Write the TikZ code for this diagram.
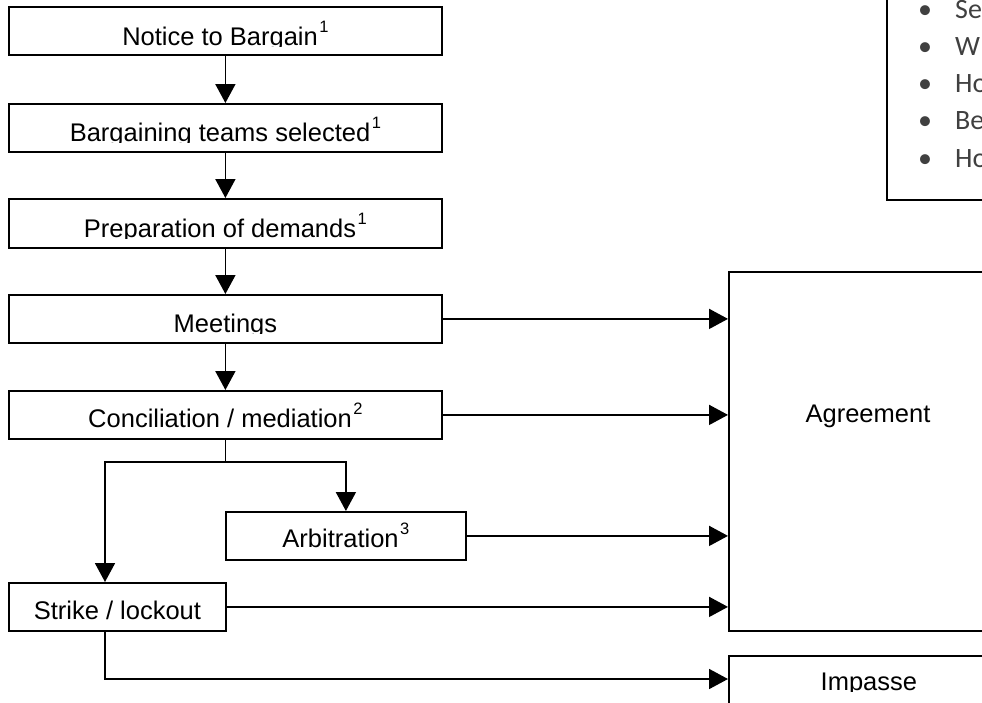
\documentclass[tikz,border=0pt]{standalone}
\usepackage{fontspec}
\setmainfont{Liberation Sans}
\newfontfamily\notefont{Carlito}
\usetikzlibrary{arrows.meta}

\definecolor{notegray}{RGB}{64,64,64}

\newcommand\fnmark[1]{\kern1.5pt\raisebox{12.5pt}{\fontsize{16.5}{16.5}\selectfont #1}}
% text of a box, cut off just under its baseline
\newcommand\stagelabel[3]{%
  \begin{scope}
    \clip (#1.north west) rectangle (#1.east |- 0,#2+1.5);
    \node[stagetext] (#1-txt) at (#1.center |- 0,#2) {#3};
  \end{scope}}

\tikzset{
  stage/.style={draw, line width=1.8pt, anchor=north west, inner sep=0pt},
  flow/.style={line width=1.8pt, -{Triangle[length=19pt,width=20pt]}},
  link/.style={line width=1.8pt},
  stagetext/.style={anchor=base, inner sep=0pt, font=\fontsize{25.5}{30}\selectfont},
  note/.style={anchor=base west, inner sep=0pt, text=notegray, font=\notefont\fontsize{28}{34}\selectfont},
}

\begin{document}
\begin{tikzpicture}[x=1pt,y=-1pt]
    \useasboundingbox (0,0) rectangle (982,702);
    \clip (0,0) rectangle (982,702);

    % left column
    \node[stage, minimum width=433pt, minimum height=48pt] (notice) at (8,6) {};
    \node[stage, minimum width=433pt, minimum height=48pt] (teams) at (8,103) {};
    \node[stage, minimum width=433pt, minimum height=49pt] (demands) at (8,198) {};
    \node[stage, minimum width=433pt, minimum height=48pt] (meetings) at (8,294) {};
    \node[stage, minimum width=433pt, minimum height=48pt] (concil) at (8,390) {};
    \node[stage, minimum width=240pt, minimum height=48pt] (arbit) at (225,511) {};
    \node[stage, minimum width=217pt, minimum height=48pt] (strike) at (8,582) {};

    % right column
    \node[stage, minimum width=280pt, minimum height=359pt] (agree) at (728,271) {};
    \node[stage, minimum width=280pt, minimum height=70pt] (impasse) at (728,655) {};
    \node[stage, minimum width=130pt, minimum height=215pt] (notes) at (886,-16) {};

    \stagelabel{notice}{45}{Notice to Bargain\fnmark{1}}
    \stagelabel{teams}{141}{Bargaining teams selected\fnmark{1}}
    \stagelabel{demands}{237}{Preparation of demands\fnmark{1}}
    \stagelabel{meetings}{332}{Meetings}
    \stagelabel{concil}{427}{Conciliation / mediation\fnmark{2}}
    \stagelabel{arbit}{547}{Arbitration\fnmark{3}}
    \stagelabel{strike}{619}{Strike / lockout}
    \node[stagetext] (agree-txt) at (868,422) {Agreement};
    \stagelabel{impasse}{690}{Impasse}

    \foreach \txt [count=\i] in {Se,W,Ho,Be,Ho} {
      \node[note, anchor=base] (dot\i) at (925,-19.3+37.3*\i) {•};
      \node[note] (item\i) at (955,-19.3+37.3*\i) {\txt};
    }

    % down the column
    \draw[flow] (notice.south) -- (teams.north);
    \draw[flow] (teams.south) -- (demands.north);
    \draw[flow] (demands.south) -- (meetings.north);
    \draw[flow] (meetings.south) -- (concil.north);

    % fork under conciliation
    \coordinate (fork) at (concil.south |- 0,462);
    \coordinate (forkleft) at (105,462);
    \draw[link] (concil.south) -- (fork);
    \draw[flow] (fork) -| (arbit.north);
    \draw[flow] (fork) -- (forkleft) -- (forkleft |- strike.north);

    % over to the outcomes
    \draw[flow] (meetings.east) -- (meetings.east -| agree.west);
    \draw[flow] (concil.east) -- (concil.east -| agree.west);
    \draw[flow] (arbit.east) -- (arbit.east -| agree.west);
    \draw[flow] (strike.east) -- (strike.east -| agree.west);
    \draw[flow] (forkleft |- strike.south) |- (impasse.west |- 0,679);
  \end{tikzpicture}
\end{document}
